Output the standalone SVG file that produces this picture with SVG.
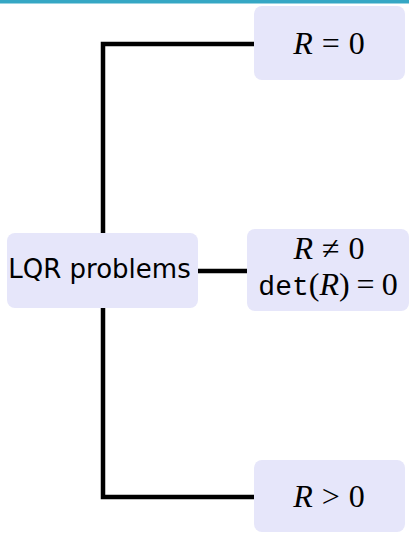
<svg xmlns="http://www.w3.org/2000/svg" width="409" height="533" viewBox="0 0 409 533">
<style>
.node{fill:#E6E6FA;stroke:none}
.math{font-family:"Liberation Serif","DejaVu Serif",serif;font-size:32px;fill:#000}
.it{font-style:italic}
.sans{font-family:"DejaVu Sans","Liberation Sans",sans-serif;font-size:26px;fill:#000}
.mono{font-family:"Liberation Mono","DejaVu Sans Mono",monospace;font-size:28px}
.conn{fill:none;stroke:#000;stroke-width:4.5;stroke-linejoin:miter;stroke-linecap:butt}
</style>
<rect x="0" y="0" width="409" height="3.5" fill="#35A7C4"/>
<g id="connectors">
<path class="conn" d="M254,44 H103 V233"/>
<path class="conn" d="M103,308 V497 H254"/>
<path class="conn" d="M198,271 H247"/>
</g>
<g id="lqr">
<rect class="node" x="7" y="233" width="191" height="75" rx="8"/>
<text class="sans" x="99.5" y="278" text-anchor="middle">LQR problems</text>
</g>
<g id="r0">
<rect class="node" x="254" y="6" width="151" height="74" rx="8"/>
<text class="math" x="329" y="54" text-anchor="middle"><tspan class="it">R</tspan><tspan dx="9">=</tspan><tspan dx="9">0</tspan></text>
</g>
<g id="rne0">
<rect class="node" x="247" y="229" width="162" height="82" rx="8"/>
<text class="math" x="329" y="259" text-anchor="middle"><tspan class="it">R</tspan><tspan dx="9">≠</tspan><tspan dx="9">0</tspan></text>
<text class="math" x="328" y="295" text-anchor="middle"><tspan class="mono">det</tspan>(<tspan class="it">R</tspan>)<tspan dx="7">=</tspan><tspan dx="7">0</tspan></text>
</g>
<g id="rgt0">
<rect class="node" x="254" y="460" width="151" height="72" rx="8"/>
<text class="math" x="329" y="507" text-anchor="middle"><tspan class="it">R</tspan><tspan dx="9">&gt;</tspan><tspan dx="9">0</tspan></text>
</g>
</svg>
